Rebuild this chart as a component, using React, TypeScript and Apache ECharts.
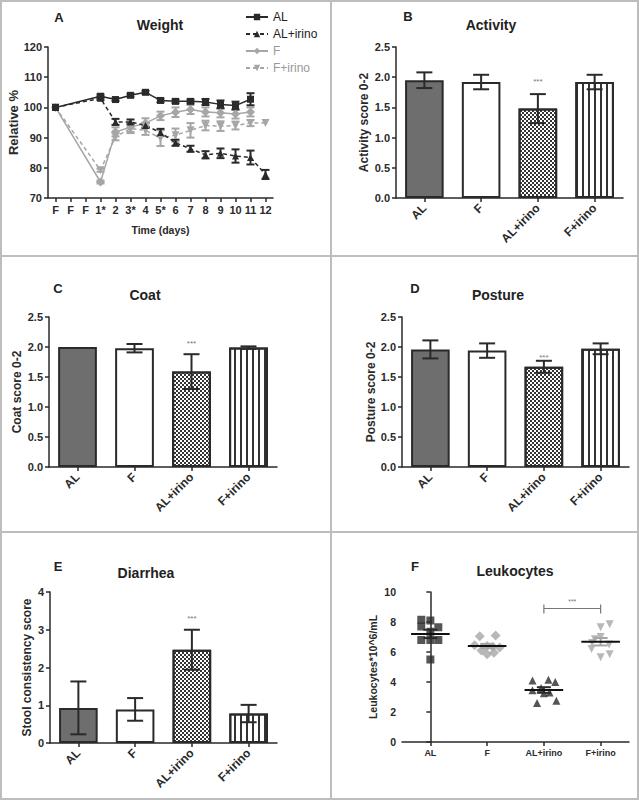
import React, { useEffect, useRef } from "react";
import * as echarts from "echarts";

// ---------- DATA ----------
const days = ["F", "F", "F", "1*", "2", "3*", "4", "5*", "6", "7", "8", "9", "10", "11", "12"];
const weightAL = [100, null, null, 103.7, 102.6, 104.0, 105.0, 102.3, 102.0, 102.0, 101.8, 101.0, 100.6, 102.7, null];
const weightALErr = [0, null, null, 0.6, 0.5, 0.5, 0.5, 0.6, 0.6, 0.6, 1.0, 1.3, 1.3, 2.0, null];
const weightALirino = [100, null, null, 103.0, 95.2, 95.2, 94.0, 91.7, 88.3, 86.3, 84.3, 84.8, 83.9, 83.4, 77.8];
const weightALirinoErr = [0, null, null, 0.6, 1.0, 0.8, 0.8, 1.2, 1.0, 1.0, 1.2, 1.6, 2.2, 2.3, 1.5];
const weightF = [100, null, null, 75.3, 91.9, 93.4, 94.8, 97.2, 98.4, 99.3, 98.5, 98.2, 97.8, 98.5, null];
const weightFErr = [0, null, null, 0.5, 1.5, 1.5, 1.6, 1.4, 1.6, 1.5, 1.5, 1.5, 1.5, 1.5, null];
const weightFirino = [100, null, null, 79.2, 90.3, 93.0, 92.4, 89.8, 90.8, 92.4, 94.0, 93.8, 94.0, 94.8, 94.8];
const weightFirinoErr = [0, null, null, 0.5, 1.2, 1.5, 1.5, 2.6, 2.2, 2.4, 1.6, 1.6, 1.3, 1.0, 0];

const groups = ["AL", "F", "AL+irino", "F+irino"];

const activity = [1.95, 1.92, 1.48, 1.92];
const activityErr = [0.13, 0.12, 0.24, 0.12];
const coat = [2.0, 1.98, 1.59, 1.99];
const coatErr = [0, 0.07, 0.29, 0.02];
const posture = [1.96, 1.94, 1.67, 1.97];
const postureErr = [0.15, 0.12, 0.1, 0.09];
const diarrhea = [0.93, 0.89, 2.47, 0.78];
const diarrheaErr = [0.7, 0.3, 0.53, 0.23];

const sigMarks = ["", "", "***", ""];
const activitySigLevel = 1.93;
const coatSigLevel = 2.06;
const postureSigLevel = 1.82;
const diarrheaSigLevel = 3.29;

const leukoAL = [8.15, 8.1, 7.7, 7.65, 7.35, 6.8, 6.8, 6.8, 5.5];
const leukoALJitter = [-0.16, 0.0, -0.16, 0.14, 0.0, -0.16, 0.0, 0.14, 0.0];
const leukoF = [7.05, 7.1, 6.45, 6.4, 6.35, 6.3, 6.1, 5.95, 5.85];
const leukoFJitter = [-0.13, 0.15, -0.22, 0.0, 0.1, 0.22, -0.1, 0.12, 0.0];
const leukoALirino = [4.1, 4.15, 4.0, 3.6, 3.45, 3.3, 3.25, 2.75, 2.6];
const leukoALirinoJitter = [-0.2, 0.08, 0.2, -0.05, -0.2, 0.1, 0.0, 0.22, -0.12];
const leukoFirino = [7.85, 7.65, 7.0, 6.85, 6.6, 6.5, 6.2, 5.85, 5.65];
const leukoFirinoJitter = [0.16, 0.0, 0.0, -0.1, -0.15, 0.15, -0.16, 0.16, 0.0];
const leukoBracket = [2, 3, 8.9];

// ---------- STYLE ----------
const FONT = '"Liberation Sans", Arial, Helvetica, sans-serif';
const INK = "#2a2a2a";
const GREY = "#a6a6a6";
const BORDER = "#bdbdbd";

const checkerDecal = {
  symbol: "rect",
  symbolSize: 1,
  dashArrayX: [[2, 2], [0, 2, 2, 0]],
  dashArrayY: [2, 0],
  color: "#333",
};
const stripeDecal = {
  symbol: "rect",
  symbolSize: 1,
  dashArrayX: [2, 4],
  dashArrayY: [4, 0],
  color: "#333",
};
const barFills = [
  { color: "#6e6e6e" },
  { color: "#ffffff" },
  { color: "#ffffff", decal: checkerDecal },
  { color: "#ffffff", decal: stripeDecal },
];

const axisLine = { show: true, lineStyle: { color: INK, width: 1.5 } };
const axisTick = { show: true, length: 4, lineStyle: { color: INK, width: 1.5 } };

function yAxis(grid: number, min: number, max: number, interval: number, name: string, nameGap: number, nameSize: number, decimals: number, labelSize = 11) {
  return {
    type: "value",
    gridIndex: grid,
    min,
    max,
    interval,
    axisLine,
    axisTick,
    splitLine: { show: false },
    axisLabel: {
      fontSize: labelSize,
      fontWeight: "bold",
      color: INK,
      fontFamily: FONT,
      margin: 6,
      formatter: (v: number) => v.toFixed(decimals),
    },
    name,
    nameLocation: "middle",
    nameGap,
    nameTextStyle: { fontSize: nameSize, fontWeight: "bold", color: INK, fontFamily: FONT },
  };
}

function catAxis(grid: number, rotate: number, size: number, margin: number) {
  return {
    type: "category",
    gridIndex: grid,
    data: groups,
    axisLine,
    axisTick: { ...axisTick, alignWithLabel: true, interval: 0 },
    axisLabel: { rotate, fontSize: size, fontWeight: "bold", color: INK, fontFamily: FONT, margin, interval: 0 },
  };
}

function barSeries(axis: number, vals: number[]) {
  return {
    type: "bar",
    xAxisIndex: axis,
    yAxisIndex: axis,
    barWidth: "68%",
    z: 2,
    data: vals.map((v, i) => ({
      value: v,
      itemStyle: { ...barFills[i], borderColor: INK, borderWidth: 2 },
    })),
  };
}

function barErrSeries(axis: number, vals: number[], errs: number[], sigLevel: number) {
  return {
    type: "custom",
    xAxisIndex: axis,
    yAxisIndex: axis,
    z: 5,
    data: vals.map((v, i) => [i, v + errs[i], v - errs[i]]),
    renderItem: (params: any, api: any) => {
      const i = params.dataIndex;
      const x = api.value(0);
      const hi = api.coord([x, api.value(1)]);
      const lo = api.coord([x, api.value(2)]);
      const st = { stroke: INK, lineWidth: 2 };
      const children: any[] = [];
      if (Math.abs(hi[1] - lo[1]) > 0.1) {
        children.push({ type: "line", shape: { x1: hi[0], y1: hi[1], x2: lo[0], y2: lo[1] }, style: st });
        children.push({ type: "line", shape: { x1: hi[0] - 8, y1: hi[1], x2: hi[0] + 8, y2: hi[1] }, style: st });
        children.push({ type: "line", shape: { x1: lo[0] - 8, y1: lo[1], x2: lo[0] + 8, y2: lo[1] }, style: st });
      }
      if (sigMarks[i]) {
        const p = api.coord([x, sigLevel]);
        children.push({
          type: "text",
          x: p[0],
          y: p[1],
          style: {
            text: sigMarks[i],
            fill: "#777",
            fontSize: 8,
            fontFamily: FONT,
            align: "center",
            verticalAlign: "middle",
            textAlign: "center",
            textVerticalAlign: "middle",
          },
        });
      }
      return { type: "group", children };
    },
  };
}

function lineSeries(name: string, data: (number | null)[], color: string, dashed: boolean, symbol: string, size: number, rotate = 0) {
  return {
    type: "line",
    name,
    xAxisIndex: 0,
    yAxisIndex: 0,
    data,
    connectNulls: true,
    symbol,
    symbolSize: size,
    symbolRotate: rotate,
    showAllSymbol: true,
    lineStyle: { color, width: 1.5, type: dashed ? [4, 3] : "solid" },
    itemStyle: { color },
    z: 4,
  };
}

function lineErrSeries(vals: (number | null)[], errs: (number | null)[], color: string) {
  const data: number[][] = [];
  vals.forEach((v, i) => {
    const e = errs[i];
    if (v != null && e) data.push([i, v + e, v - e]);
  });
  return {
    type: "custom",
    xAxisIndex: 0,
    yAxisIndex: 0,
    z: 3,
    data,
    renderItem: (params: any, api: any) => {
      const x = api.value(0);
      const hi = api.coord([x, api.value(1)]);
      const lo = api.coord([x, api.value(2)]);
      const st = { stroke: color, lineWidth: 2 };
      return {
        type: "group",
        children: [
          { type: "line", shape: { x1: hi[0], y1: hi[1], x2: lo[0], y2: lo[1] }, style: st },
          { type: "line", shape: { x1: hi[0] - 4, y1: hi[1], x2: hi[0] + 4, y2: hi[1] }, style: st },
          { type: "line", shape: { x1: lo[0] - 4, y1: lo[1], x2: lo[0] + 4, y2: lo[1] }, style: st },
        ],
      };
    },
  };
}

function scatterSeries(vals: number[], jit: number[], idx: number, symbol: string, color: string, size: number, rotate = 0) {
  return {
    type: "scatter",
    xAxisIndex: 6,
    yAxisIndex: 5,
    symbol,
    symbolSize: size,
    symbolRotate: rotate,
    itemStyle: { color },
    z: 3,
    data: vals.map((v, k) => [idx + jit[k], v]),
  };
}

const leukoSets = [
  { vals: leukoAL, color: INK },
  { vals: leukoF, color: GREY },
  { vals: leukoALirino, color: INK },
  { vals: leukoFirino, color: GREY },
];

function meanSemSeries() {
  const data = leukoSets.map((g, i) => {
    const n = g.vals.length;
    const mean = g.vals.reduce((a, b) => a + b, 0) / n;
    const sd = Math.sqrt(g.vals.reduce((a, b) => a + (b - mean) * (b - mean), 0) / (n - 1));
    return [i, mean, sd / Math.sqrt(n)];
  });
  return {
    type: "custom",
    xAxisIndex: 6,
    yAxisIndex: 5,
    z: 6,
    data,
    renderItem: (params: any, api: any) => {
      const i = params.dataIndex;
      const x = api.value(0);
      const m = api.value(1);
      const s = api.value(2);
      const c = api.coord([x, m]);
      const hi = api.coord([x, m + s]);
      const lo = api.coord([x, m - s]);
      const half = api.size([0.34, 0])[0];
      const col = leukoSets[i].color;
      const st = { stroke: col, lineWidth: 2 };
      return {
        type: "group",
        children: [
          { type: "line", shape: { x1: hi[0], y1: hi[1], x2: lo[0], y2: lo[1] }, style: st },
          { type: "line", shape: { x1: hi[0] - 7, y1: hi[1], x2: hi[0] + 7, y2: hi[1] }, style: st },
          { type: "line", shape: { x1: lo[0] - 7, y1: lo[1], x2: lo[0] + 7, y2: lo[1] }, style: st },
          { type: "line", shape: { x1: c[0] - half, y1: c[1], x2: c[0] + half, y2: c[1] }, style: { stroke: "#111", lineWidth: 2 } },
        ],
      };
    },
  };
}

function bracketSeries() {
  return {
    type: "custom",
    xAxisIndex: 6,
    yAxisIndex: 5,
    z: 6,
    data: [leukoBracket],
    renderItem: (params: any, api: any) => {
      const a = api.coord([api.value(0), api.value(2)]);
      const b = api.coord([api.value(1), api.value(2)]);
      const st = { stroke: "#777", lineWidth: 1.2 };
      return {
        type: "group",
        children: [
          { type: "line", shape: { x1: a[0], y1: a[1], x2: b[0], y2: b[1] }, style: st },
          { type: "line", shape: { x1: a[0], y1: a[1] - 4, x2: a[0], y2: a[1] + 5 }, style: st },
          { type: "line", shape: { x1: b[0], y1: b[1] - 4, x2: b[0], y2: b[1] + 5 }, style: st },
          {
            type: "text",
            x: (a[0] + b[0]) / 2,
            y: a[1] - 4,
            style: {
              text: "***",
              fill: "#777",
              fontSize: 7,
              fontFamily: FONT,
              align: "center",
              verticalAlign: "bottom",
              textAlign: "center",
              textVerticalAlign: "bottom",
            },
          },
        ],
      };
    },
  };
}

function label(text: string, x: number, y: number, size: number) {
  return {
    type: "text",
    x,
    y,
    z: 10,
    style: {
      text,
      fill: "#222",
      fontSize: size,
      fontWeight: "bold",
      fontFamily: FONT,
      align: "center",
      verticalAlign: "middle",
      textAlign: "center",
      textVerticalAlign: "middle",
    },
  };
}

function hline(y: number) {
  return { type: "line", z: 1, shape: { x1: 0, y1: y, x2: 639, y2: y }, style: { stroke: BORDER, lineWidth: 2 } };
}

export default function App() {
  const ref = useRef<HTMLDivElement>(null);
  useEffect(() => {
    if (!ref.current) return;
    const chart = echarts.init(ref.current, undefined, { renderer: "svg" });
    const option: any = {
      animation: false,
      backgroundColor: "#ffffff",
      textStyle: { fontFamily: FONT },
      legend: {
        orient: "vertical",
        left: 240,
        top: 6,
        itemGap: 5,
        itemWidth: 22,
        itemHeight: 8,
        textStyle: { fontSize: 12, color: "#222", fontFamily: FONT },
        data: [
          { name: "AL" },
          { name: "AL+irino" },
          { name: "F", textStyle: { color: "#999" } },
          { name: "F+irino", textStyle: { color: "#999" } },
        ],
      },
      grid: [
        { left: 48, top: 47, width: 225, height: 151 },
        { left: 396, top: 47, width: 227, height: 151 },
        { left: 49, top: 317, width: 228, height: 150 },
        { left: 402, top: 317, width: 227, height: 150 },
        { left: 50, top: 592, width: 227, height: 151 },
        { left: 402, top: 592, width: 227, height: 150 },
      ],
      xAxis: [
        {
          type: "category",
          gridIndex: 0,
          data: days,
          axisLine,
          axisTick: { ...axisTick, alignWithLabel: true, interval: 0 },
          axisLabel: { fontSize: 11, fontWeight: "bold", color: INK, fontFamily: FONT, margin: 6, interval: 0 },
          name: "Time (days)",
          nameLocation: "middle",
          nameGap: 26,
          nameTextStyle: { fontSize: 10.5, fontWeight: "bold", color: INK, fontFamily: FONT },
        },
        catAxis(1, 45, 12, 8),
        catAxis(2, 45, 12, 8),
        catAxis(3, 45, 12, 8),
        catAxis(4, 45, 12, 8),
        catAxis(5, 0, 9, 6),
        { type: "value", gridIndex: 5, min: -0.5, max: 3.5, show: false },
      ],
      yAxis: [
        yAxis(0, 70, 120, 10, "Relative %", 28, 13, 0),
        yAxis(1, 0, 2.5, 0.5, "Activity score 0-2", 26, 12, 1),
        yAxis(2, 0, 2.5, 0.5, "Coat score 0-2", 26, 12, 1),
        yAxis(3, 0, 2.5, 0.5, "Posture score 0-2", 25, 12, 1),
        yAxis(4, 0, 4, 1, "Stool consistency score", 17, 12, 0),
        yAxis(5, 0, 10, 2, "Leukocytes*10^6/mL", 24, 10.5, 0, 10.5),
      ],
      series: [
        lineErrSeries(weightFirino, weightFirinoErr, GREY),
        lineErrSeries(weightF, weightFErr, GREY),
        lineErrSeries(weightALirino, weightALirinoErr, INK),
        lineErrSeries(weightAL, weightALErr, INK),
        lineSeries("F+irino", weightFirino, GREY, true, "triangle", 8, 180),
        lineSeries("F", weightF, GREY, false, "diamond", 9),
        lineSeries("AL+irino", weightALirino, INK, true, "triangle", 7),
        lineSeries("AL", weightAL, INK, false, "rect", 7),

        barSeries(1, activity),
        barErrSeries(1, activity, activityErr, activitySigLevel),
        barSeries(2, coat),
        barErrSeries(2, coat, coatErr, coatSigLevel),
        barSeries(3, posture),
        barErrSeries(3, posture, postureErr, postureSigLevel),
        barSeries(4, diarrhea),
        barErrSeries(4, diarrhea, diarrheaErr, diarrheaSigLevel),

        scatterSeries(leukoAL, leukoALJitter, 0, "rect", INK, 8),
        scatterSeries(leukoF, leukoFJitter, 1, "diamond", GREY, 10),
        scatterSeries(leukoALirino, leukoALirinoJitter, 2, "triangle", INK, 8),
        scatterSeries(leukoFirino, leukoFirinoJitter, 3, "triangle", GREY, 8, 180),
        meanSemSeries(),
        bracketSeries(),
      ],
      graphic: [
        { type: "rect", z: 1, shape: { x: 1, y: 1, width: 637, height: 798 }, style: { fill: "none", stroke: BORDER, lineWidth: 2 } },
        { type: "line", z: 1, shape: { x1: 331, y1: 0, x2: 331, y2: 800 }, style: { stroke: BORDER, lineWidth: 2 } },
        hline(256),
        hline(532),
        label("A", 59, 17, 13),
        label("Weight", 160, 25, 14),
        label("B", 408, 16, 13),
        label("Activity", 491, 25, 14),
        label("C", 58, 288, 13),
        label("Coat", 145, 295, 14),
        label("D", 415, 288, 13),
        label("Posture", 498, 295, 14),
        label("E", 58, 566, 13),
        label("Diarrhea", 146, 573, 14),
        label("F", 415, 566, 13),
        label("Leukocytes", 515, 571, 14),
      ],
    };
    chart.setOption(option);
    return () => chart.dispose();
  }, []);
  return <div ref={ref} style={{ position: "fixed", left: 0, top: 0, width: 639, height: 800 }} />;
}
